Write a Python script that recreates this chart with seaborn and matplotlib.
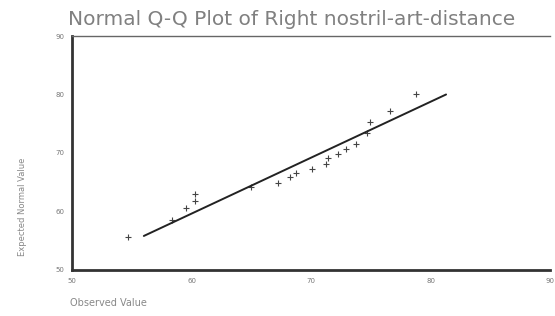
import numpy as np
import pandas as pd
import seaborn as sns
import matplotlib
matplotlib.use('Agg')
import matplotlib.pyplot as plt

observed = [54.7, 58.4, 59.5, 60.25, 60.3, 65.0, 67.25, 68.2, 68.75, 70.1,
            71.25, 71.4, 72.25, 72.9, 73.75, 74.7, 74.9, 76.6, 78.75]
expected = [55.6, 58.6, 60.5, 61.7, 62.9, 64.1, 64.9, 65.8, 66.6, 67.3,
            68.1, 69.2, 69.8, 70.7, 71.5, 73.4, 75.3, 77.1, 80.0]

# reference line end points
line_x = [56.0, 81.3]
line_y = [55.8, 80.0]

ticks = [50, 60, 70, 80, 90]

df = pd.DataFrame({'obs': observed, 'exp': expected})
ref = pd.DataFrame({'x': line_x, 'y': line_y})

sns.set_style('white')
plt.rcParams['font.family'] = ['DejaVu Sans']

fig = plt.figure(figsize=(5.55, 3.16), dpi=100)
ax = fig.add_axes([0.13, 0.146, 0.861, 0.74])

sns.lineplot(data=ref, x='x', y='y', color='#222222', linewidth=1.4, ax=ax)
sns.scatterplot(data=df, x='obs', y='exp', marker='+', color='#444444',
                s=25, linewidth=0.8, ax=ax)

ax.set_xlim(50, 90)
ax.set_ylim(50, 90)
ax.set_xticks(ticks)
ax.set_yticks(ticks)
ax.tick_params(axis='both', labelsize=5, colors='#888888', length=2, width=0.8)
for lab in ax.get_xticklabels() + ax.get_yticklabels():
    lab.set_color('#777777')

for s in ['left', 'bottom']:
    ax.spines[s].set_linewidth(2)
    ax.spines[s].set_color('#333333')
ax.spines['top'].set_linewidth(1)
ax.spines['top'].set_color('#666666')
ax.spines['right'].set_visible(False)

ax.set_xlabel('Observed Value', fontsize=7, color='#888888', ha='left')
ax.xaxis.set_label_coords(-0.005, -0.12)
ax.set_ylabel('Expected Normal Value', fontsize=6, color='#888888')
ax.yaxis.set_label_coords(-0.095, 0.27)

fig.text(0.122, 0.92, 'Normal Q-Q Plot of Right nostril-art-distance',
         ha='left', fontsize=14.5, color='#808080')

fig.savefig('out.png', dpi=100)
